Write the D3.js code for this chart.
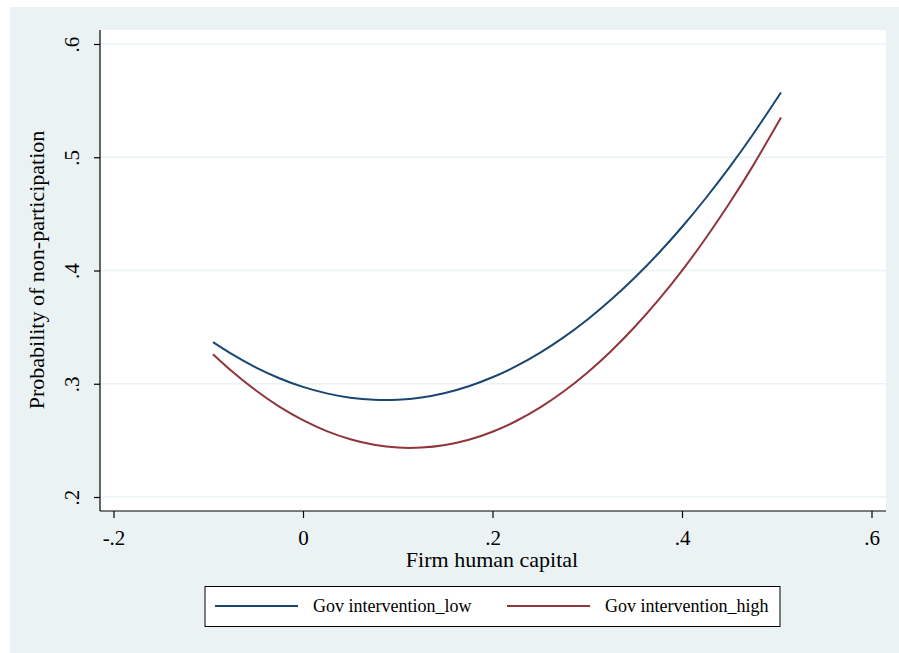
<!DOCTYPE html>
<html>
<head>
<meta charset="utf-8">
<script src="https://cdn.jsdelivr.net/npm/d3@7"></script>
<style>
  body { margin: 0; background: #fff; }
  text { font-family: "Liberation Serif", "Times New Roman", serif; fill: #000; }
</style>
</head>
<body>
<svg id="chart" width="899" height="653"></svg>
<script>
// x values (firm human capital)
const xVals = [-0.095, -0.075, -0.05, -0.025, 0, 0.025, 0.05, 0.075, 0.1, 0.125, 0.15, 0.175,
               0.2, 0.225, 0.25, 0.275, 0.3, 0.325, 0.35, 0.375, 0.4, 0.425, 0.45, 0.475, 0.5045];
// predicted probability, low intervention
const lowVals = [0.3367, 0.3261, 0.3145, 0.3049, 0.2972, 0.2915, 0.2877, 0.2858, 0.2859, 0.2879, 0.2919, 0.2978,
                 0.3057, 0.3155, 0.3272, 0.3409, 0.3565, 0.3741, 0.3936, 0.4150, 0.4384, 0.4638, 0.4911, 0.5203, 0.5573];
// predicted probability, high intervention
const highVals = [0.3261, 0.3110, 0.2942, 0.2798, 0.2678, 0.2582, 0.2510, 0.2461, 0.2436, 0.2436, 0.2459, 0.2505,
                  0.2576, 0.2671, 0.2789, 0.2931, 0.3097, 0.3287, 0.3501, 0.3738, 0.3999, 0.4285, 0.4594, 0.4926, 0.5350];

const xTicks = [-0.2, 0, 0.2, 0.4, 0.6];
const yTicks = [0.2, 0.3, 0.4, 0.5, 0.6];
const seriesNames = ["Gov intervention_low", "Gov intervention_high"];
const colors = ["#1a476f", "#90353b"];

// stata style label: drop leading zero
const fmt = d => d === 0 ? "0" : String(d).replace("0.", ".");

const svg = d3.select("#chart");

// graph region background
svg.append("rect")
    .attr("x", 10).attr("y", 7)
    .attr("width", 889).attr("height", 646)
    .attr("fill", "#eaf2f3");

// plot region
const plot = { left: 100, right: 886, top: 30, bottom: 511 };
svg.append("rect")
    .attr("x", plot.left).attr("y", plot.top)
    .attr("width", plot.right - plot.left).attr("height", plot.bottom - plot.top)
    .attr("fill", "#fff");

const x = d3.scaleLinear().domain([-0.2, 0.6]).range([113.5, 871.5]);
const y = d3.scaleLinear().domain([0.2, 0.6]).range([497, 44]);

// horizontal grid lines
svg.append("g")
    .selectAll("line")
    .data(yTicks)
    .join("line")
    .attr("x1", plot.left).attr("x2", plot.right)
    .attr("y1", d => y(d)).attr("y2", d => y(d))
    .attr("stroke", "#eaf2f3")
    .attr("stroke-width", 1.5);

// y axis
const yAxis = svg.append("g")
    .attr("transform", "translate(" + plot.left + ",0)")
    .call(d3.axisLeft(y).tickValues(yTicks).tickFormat(fmt).tickSize(6).tickPadding(0));
yAxis.select(".domain").attr("d", "M0," + plot.top + "V" + plot.bottom).attr("stroke-width", 1.2);
yAxis.selectAll(".tick line").attr("stroke-width", 1.2);
yAxis.selectAll(".tick text")
    .attr("x", 0).attr("dy", null)
    .attr("transform", "translate(-21,0) rotate(-90)")
    .attr("text-anchor", "middle")
    .style("font-size", "21px")
    .style("font-family", "Liberation Serif, serif")
    .attr("fill", "#000");

// x axis
const xAxis = svg.append("g")
    .attr("transform", "translate(0," + plot.bottom + ")")
    .call(d3.axisBottom(x).tickValues(xTicks).tickFormat(fmt).tickSize(7));
xAxis.select(".domain").attr("d", "M" + plot.left + ",0H" + plot.right).attr("stroke-width", 1.2);
xAxis.selectAll(".tick line").attr("stroke-width", 1.2);
xAxis.selectAll(".tick text")
    .attr("y", 34).attr("dy", null)
    .style("font-size", "21px")
    .style("font-family", "Liberation Serif, serif")
    .attr("fill", "#000");

// axis titles
svg.append("text")
    .attr("x", 492).attr("y", 567)
    .attr("text-anchor", "middle")
    .style("font-size", "22px")
    .text("Firm human capital");

svg.append("text")
    .attr("transform", "translate(44," + 270 + ") rotate(-90)")
    .attr("text-anchor", "middle")
    .style("font-size", "22px")
    .text("Probability of non-participation");

// curves
const line = d3.line()
    .x(d => x(d[0]))
    .y(d => y(d[1]))
    .curve(d3.curveNatural);

[lowVals, highVals].forEach((vals, i) => {
    svg.append("path")
        .datum(xVals.map((xv, j) => [xv, vals[j]]))
        .attr("d", line)
        .attr("fill", "none")
        .attr("stroke", colors[i])
        .attr("stroke-width", 2);
});

// legend
const legend = svg.append("g");
legend.append("rect")
    .attr("x", 205).attr("y", 586.5)
    .attr("width", 575).attr("height", 40)
    .attr("fill", "#fff")
    .attr("stroke", "#000")
    .attr("stroke-width", 1);

const legendX = [215, 507];
seriesNames.forEach((name, i) => {
    legend.append("line")
        .attr("x1", legendX[i]).attr("x2", legendX[i] + 83)
        .attr("y1", 606).attr("y2", 606)
        .attr("stroke", colors[i])
        .attr("stroke-width", 2);
    legend.append("text")
        .attr("x", legendX[i] + 98).attr("y", 612)
        .style("font-size", "18px")
        .text(name);
});
</script>
</body>
</html>
